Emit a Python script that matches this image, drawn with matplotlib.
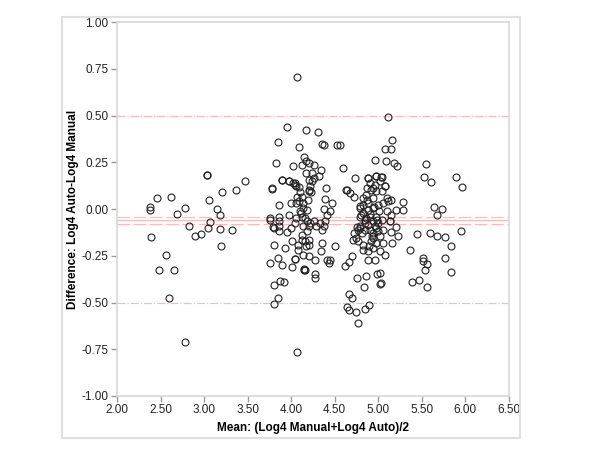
import matplotlib
matplotlib.use("Agg")
import matplotlib.pyplot as plt
from matplotlib.patches import Rectangle
import numpy as np

mean_vals = [
    2.38, 2.38, 2.46, 2.62, 2.69, 2.78, 2.39, 2.56, 2.48, 2.65, 2.83, 2.90, 2.96,
    3.03, 3.03, 3.06, 3.15, 3.18, 3.07, 3.04, 3.18, 3.21, 3.20, 3.32, 3.37, 3.47,
    2.60, 2.78,
    3.95, 4.17, 4.31, 3.85, 4.09, 4.36, 4.38, 4.53, 4.56, 3.83, 4.02, 4.12, 4.15,
    4.17, 4.21, 4.26, 4.34, 4.17, 4.24, 4.26, 4.32, 4.21, 4.59, 4.63, 4.07,
    3.89, 3.97, 4.04, 4.06, 3.78, 3.78, 3.90, 3.97, 4.04, 4.09, 4.20, 4.23,
    4.40, 4.39, 4.64, 4.68, 4.72, 4.73,
    4.02, 4.07, 4.12, 4.00, 4.06, 4.09, 4.14, 4.14, 4.10, 4.18, 4.24, 4.22, 4.21,
    4.38, 4.41, 3.98, 3.86, 3.86, 3.79, 3.95, 4.00, 4.04, 4.06, 4.12, 4.18, 4.14,
    4.21, 4.18, 4.22, 4.26, 4.29, 4.35, 4.33, 4.38, 4.39, 4.01, 3.93, 4.08, 4.12,
    4.16, 4.20, 4.21, 4.08, 4.14, 4.21, 4.27, 4.35, 4.34, 4.41, 4.45, 4.43, 4.04,
    3.76, 3.80, 3.86, 3.76, 3.85, 3.90, 4.01, 4.04, 4.15, 4.15, 4.16, 4.27, 4.27,
    3.80, 3.87, 3.92, 3.80, 3.85, 4.07,
    4.62, 4.67, 4.70, 4.76, 4.86, 4.84, 4.99, 5.02, 4.67, 4.70, 4.64, 4.66, 4.75,
    4.85, 4.89, 4.77, 4.76, 4.72, 4.75,
    5.11, 5.16, 5.08, 5.15, 4.96, 5.09, 5.18, 5.22, 5.55, 5.53, 5.61, 4.88, 4.97,
    5.03, 5.08, 5.28, 5.21, 5.29, 5.64, 5.73, 5.67, 5.44, 5.60, 5.68, 5.77, 5.36,
    5.51, 5.52, 5.56, 5.54, 5.84, 5.89, 5.96, 5.14, 5.21, 5.15, 5.23, 5.16, 5.95,
    5.08, 5.77, 5.84, 5.39, 5.47, 5.56, 5.02, 5.03,
    4.905, 4.96, 5.02, 5.08, 4.92, 4.98, 5.04, 5.10, 5.15, 4.94, 4.87, 4.83, 4.79,
    4.83, 4.885, 4.94, 5.00, 5.06, 5.115, 4.905, 4.98, 5.04, 4.79, 4.85, 4.94,
    5.00, 4.885, 5.10, 5.15, 5.13, 4.79, 4.85, 4.77, 4.905, 4.94, 5.00, 5.06,
    4.94, 5.02, 4.92, 4.98, 5.06, 4.71, 4.77, 4.83, 4.83, 4.885, 4.94, 5.02,
    4.885, 4.96, 4.885, 4.97, 5.04, 4.94, 4.87, 4.83, 4.79, 4.80, 4.85, 4.79,
    3.76, 3.80, 3.86, 3.86, 4.45, 4.47, 4.50,
    4.86, 4.91, 4.96, 5.01, 4.88, 4.93, 4.99, 4.90, 4.95, 4.81, 4.86, 4.97,
    4.11, 4.16, 4.13, 4.19, 4.10, 4.17,
]
diff_vals = [
    0.010, -0.004, 0.060, 0.067, -0.025, 0.003, -0.147, -0.246, -0.326, -0.326,
    -0.089, -0.146, -0.132, 0.180, 0.184, 0.050, 0.000, -0.030, -0.070, -0.100,
    -0.105, 0.090, -0.196, -0.114, 0.100, 0.151,
    -0.476, -0.710,
    0.438, 0.424, 0.410, 0.360, 0.330, 0.350, 0.340, 0.340, 0.340, 0.246, 0.228,
    0.233, 0.276, 0.255, 0.246, 0.237, 0.210, 0.193, 0.193, 0.166, 0.178, 0.157,
    0.220, 0.103, 0.704,
    0.157, 0.148, 0.130, 0.121, 0.107, 0.112, 0.157, 0.148, 0.139, 0.118, 0.103,
    0.092, 0.112, 0.055, 0.103, 0.086, 0.062, 0.164,
    0.139, 0.067, 0.067, 0.032, 0.032, 0.041, 0.032, 0.005, -0.013, -0.004, 0.148,
    0.121, 0.094, 0.000, -0.030, -0.030, -0.043, -0.066, -0.098, -0.125, -0.102,
    -0.075, -0.048, -0.040, -0.066, -0.093, -0.093, -0.120, -0.075, -0.066,
    -0.093, -0.111, -0.075, -0.093, -0.066, -0.173, -0.209, -0.191, -0.164,
    -0.173, -0.164, -0.191, -0.218, -0.244, -0.253, -0.271, -0.182, -0.227,
    -0.271, -0.271, -0.289, -0.266,
    -0.289, -0.100, -0.089, -0.048, -0.262, -0.298, -0.312, -0.267, -0.325,
    -0.322, -0.328, -0.346, -0.369,
    -0.409, -0.387, -0.390, -0.506, -0.476, -0.765,
    -0.303, -0.283, -0.253, -0.371, -0.357, -0.419, -0.346, -0.400, -0.455,
    -0.476, -0.526, -0.538, -0.551, -0.533, -0.516, -0.612, -0.098, -0.128,
    -0.155,
    0.495, 0.369, 0.320, 0.320, 0.260, 0.255, 0.246, 0.228, 0.240, 0.171, 0.144,
    0.164, 0.176, 0.169, 0.125, 0.039, -0.004, -0.004, 0.009, 0.002, -0.030,
    -0.134, -0.128, -0.143, -0.152, -0.218, -0.262, -0.280, -0.294, -0.325,
    -0.200, 0.169, 0.118, -0.064, -0.096, -0.121, -0.145, -0.180, -0.118,
    -0.244, -0.262, -0.335, -0.390, -0.378, -0.419, -0.340, -0.394,
    0.139, 0.130, 0.148, 0.121, 0.103, 0.094, 0.094, 0.059, 0.050, 0.059, 0.050,
    0.023, 0.005, -0.021, -0.004, 0.005, 0.023, 0.032, 0.041, -0.040, -0.040,
    -0.057, -0.040, -0.057, -0.066, -0.075, -0.084, -0.013, -0.030, -0.066,
    -0.093, -0.111, -0.111, -0.111, -0.128, -0.120, -0.111, -0.155, -0.146,
    -0.173, -0.182, -0.182, -0.164, -0.173, -0.191, -0.218, -0.227, -0.209,
    -0.227, -0.271, -0.271, 0.166, 0.178, 0.169, 0.112, 0.112, 0.059, 0.014,
    -0.030, -0.075, -0.102,
    -0.057, -0.190, -0.120, 0.020, -0.010, 0.030, -0.200,
    -0.050, -0.025, -0.090, -0.010, 0.030, -0.145, -0.060, -0.200, 0.010,
    -0.130, 0.075, -0.100,
    -0.020, -0.050, -0.140, 0.050, 0.090, -0.200,
]

mean_diff = -0.057
ci_low, ci_high = -0.079, -0.040
loa_low, loa_high = -0.50, 0.50

fig = plt.figure(figsize=(6.0, 4.51), dpi=100)
ax = fig.add_axes([0.195, 0.122, 0.653, 0.829])

line_col = "#ffb8b8"
ax.axhline(loa_high, color=line_col, lw=0.9, ls="-.", zorder=1)
ax.axhline(loa_low, color=line_col, lw=0.9, ls="-.", zorder=1)
ax.axhline(mean_diff, color=line_col, lw=0.9, ls="-", zorder=1)
ax.axhline(ci_high, color=line_col, lw=0.9, ls=(0, (10, 3)), zorder=1)
ax.axhline(ci_low, color=line_col, lw=0.9, ls=(0, (10, 3)), zorder=1)

ax.plot(mean_vals, diff_vals, ls="none", marker="o", markersize=5,
        markerfacecolor="none", markeredgecolor="#222222", markeredgewidth=0.8,
        zorder=3)

ax.set_xlim(2.0, 6.5)
ax.set_ylim(-1.0, 1.0)
ax.set_xticks(np.arange(2.0, 6.51, 0.5))
ax.set_yticks(np.arange(-1.0, 1.01, 0.25))
ax.set_xticklabels(["%.2f" % v for v in np.arange(2.0, 6.51, 0.5)])
ax.set_yticklabels(["%.2f" % v for v in np.arange(-1.0, 1.01, 0.25)])

font = "Liberation Sans"
for lab in ax.get_xticklabels() + ax.get_yticklabels():
    lab.set_fontfamily(font)
    lab.set_fontsize(8.5)
    lab.set_color("#222222")
ax.tick_params(direction="out", length=4, width=1, color="#999999", pad=2)
for sp in ax.spines.values():
    sp.set_color("#d8d8d8")
    sp.set_linewidth(1.2)

ax.set_xlabel("Mean: (Log4 Manual+Log4 Auto)/2", fontfamily=font,
              fontsize=8.5, fontweight="bold", labelpad=4)
ax.set_ylabel("Difference: Log4 Auto-Log4 Manual", fontfamily=font,
              fontsize=8.5, fontweight="bold", labelpad=2)

fig.patches.append(Rectangle((0.103, 0.029), 0.764, 0.933, transform=fig.transFigure,
                             fill=False, edgecolor="#e0e0e0", lw=1.5))

fig.savefig("out.png", dpi=100)
